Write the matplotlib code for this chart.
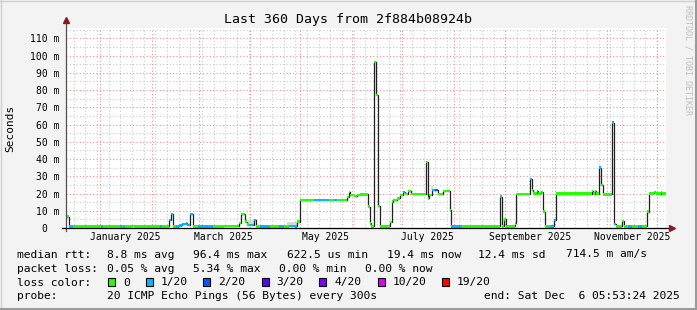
import datetime as dt
import numpy as np
import matplotlib
matplotlib.use('Agg')
import matplotlib.pyplot as plt
from matplotlib.patches import Rectangle
from matplotlib.lines import Line2D

W, H = 697, 310
END = dt.datetime(2025, 12, 6, 5, 53, 24)
START = END - dt.timedelta(days=360)

# median rtt as steps: start day (offset from START), value in ms, loss level
seg_day = [0.0, 2.2, 4.6, 21.0, 22.2, 32.6, 33.8, 34.6, 35.8, 40.0, 41.0, 56.6, 57.6,
           62.2, 63.2, 64.4, 66.0, 68.0, 70.0, 72.0, 73.0, 74.6, 76.2, 79.6, 88.6,
           95.0, 104.0, 105.2, 107.6, 108.6, 109.8, 113.2, 114.0, 116.6, 122.6,
           128.0, 131.0, 134.0, 137.8, 138.8, 140.3, 148.8, 157.8, 161.0, 163.0,
           168.8, 169.8, 170.8, 173.0, 175.0, 176.5, 181.2, 182.6, 183.2, 185.2,
           186.0, 187.2, 188.6, 194.6, 195.6, 196.6, 198.6, 200.6, 202.6, 203.6,
           205.6, 207.0, 216.0, 217.2, 218.2, 219.6, 221.6, 223.2, 226.6, 230.6,
           231.2, 237.6, 260.8, 262.0, 263.2, 264.0, 269.6, 270.0, 278.6, 279.8,
           280.6, 282.6, 283.6, 285.2, 286.4, 287.8, 290.6, 293.2, 294.0, 315.6,
           316.6, 317.6, 318.4, 319.8, 321.0, 322.4, 328.0, 329.2, 330.0, 333.8,
           335.0, 337.6, 339.6, 343.6, 345.6, 348.6, 350.0, 353.0, 354.0, 357.0,
           358.0]
seg_ms = [6.6, 0.9, 0.9, 0.9, 0.9, 0.9, 0.9, 0.9, 0.9, 1.2, 0.9, 0.9, 0.9,
          4.6, 8.1, 0.9, 0.9, 1.5, 2.3, 2.7, 1.8, 8.1, 0.9, 0.9, 0.9,
          1.1, 3.0, 8.0, 3.7, 2.0, 1.7, 4.8, 0.9, 0.9, 0.9,
          0.9, 0.9, 1.3, 0.9, 3.7, 16.2, 16.2, 16.2, 16.2, 16.2,
          18.0, 21.0, 19.0, 18.4, 19.0, 19.5, 12.4, 2.7, 0.9, 96.4,
          77.0, 12.6, 0.9, 3.5, 15.3, 16.2, 17.2, 19.1, 20.9, 19.7,
          21.3, 19.7, 38.4, 17.2, 19.1, 22.0, 22.0, 19.7, 21.5, 10.4,
          0.9, 0.9, 18.2, 0.9, 5.0, 0.9, 2.7, 19.7, 28.4, 22.0,
          20.1, 21.5, 20.1, 21.0, 9.5, 0.9, 0.9, 4.6, 19.9, 21.6,
          19.9, 21.6, 19.9, 35.0, 25.0, 19.5, 61.1, 2.3, 0.9, 4.0,
          0.9, 0.9, 0.9, 0.9, 0.9, 9.5, 20.1, 21.0, 19.9, 21.0,
          19.9]
seg_loss = [0, 1, 0, 1, 0, 1, 0, 1, 0, 0, 0, 1, 0,
            1, 1, 0, 1, 1, 1, 1, 1, 1, 0, 1, 0,
            0, 0, 0, 0, 0, 1, 1, 0, 1, 0,
            1, 0, 1, 1, 0, 0, 1, 0, 1, 0,
            0, 0, 0, 0, 0, 0, 0, 0, 0, 0,
            0, 0, 0, 0, 0, 0, 0, 0, 1, 0,
            0, 0, 0, 0, 0, 1, 2, 0, 0, 0,
            1, 0, 1, 0, 0, 0, 0, 0, 1, 0,
            0, 1, 0, 0, 0, 0, 1, 1, 0, 0,
            0, 0, 0, 1, 0, 0, 1, 1, 0, 0,
            0, 1, 0, 1, 0, 0, 0, 0, 0, 0,
            0]

# light smoke patches
smoke_day = [95.0, 109.5, 133.0, 219.0]
smoke_len = [8.0, 3.5, 5.5, 1.5]
smoke_lo = [0.5, 1.0, 1.0, 22.0]
smoke_hi = [1.6, 4.5, 3.7, 24.5]

loss_names = ['0', '1/20', '2/20', '3/20', '4/20', '10/20', '19/20']
loss_colors = ['#26ff00', '#00b8ff', '#0059ff', '#5e00ff', '#7e00ff', '#dd00ff', '#ff0000']

y_ticks = [0, 10, 20, 30, 40, 50, 60, 70, 80, 90, 100, 110]
y_labels = ['0  '] + ['%d m' % v for v in y_ticks[1:]]

stat_rows = [
    ('median rtt:', ['8.8 ms avg', '96.4 ms max', '622.5 us min', '19.4 ms now',
                     '12.4 ms sd', '714.5 m am/s']),
    ('packet loss:', ['0.05 % avg', '5.34 % max', '0.00 % min', '0.00 % now']),
]
probe_text = '20 ICMP Echo Pings (56 Bytes) every 300s'
end_text = 'end: Sat Dec  6 05:53:24 2025'
title = 'Last 360 Days from 2f884b08924b'

plt.rcParams['font.family'] = 'DejaVu Sans Mono'


def fx(x):
    return x / W


def fy(y):
    return 1 - y / H


def day_of(d):
    return (d - START).total_seconds() / 86400.0


fig = plt.figure(figsize=(W / 100, H / 100), dpi=100, facecolor='#f3f3f3')
ax = fig.add_axes([fx(65.7), fy(228), 600 / W, 200 / H])
ax.set_facecolor('white')
ax.set_xlim(0, 360)
ax.set_ylim(0, 116)

# grid (dotted, like rrdtool)
dots = (0, (1, 2))
monday = dt.datetime(2024, 12, 16)
while monday < END:
    ax.axvline(day_of(monday), color='#c8c8c8', lw=0.8, ls=dots, zorder=1)
    monday += dt.timedelta(days=7)
for v in range(5, 116, 10):
    ax.axhline(v, color='#c8c8c8', lw=0.8, ls=dots, zorder=1)
month_starts = [dt.datetime(2025, m, 1) for m in range(1, 13)]
for m in month_starts:
    ax.axvline(day_of(m), color='#f09090', lw=0.8, ls=dots, zorder=1.5)
for v in y_ticks[1:]:
    ax.axhline(v, color='#f09090', lw=0.8, ls=dots, zorder=1.5)

# smoke
ax.bar(smoke_day, np.array(smoke_hi) - np.array(smoke_lo), bottom=smoke_lo,
       width=smoke_len, align='edge', color='#d8d8d8', lw=0, zorder=2)

# median line + loss-colored band
day = np.array(seg_day)
ms = np.array(seg_ms)
edges = np.append(day, 360.0)
ax.step(edges, np.append(ms, ms[-1]), where='post', color='#202020', lw=0.9, zorder=3)
hw = 0.7
ax.bar(day, 2 * hw, bottom=ms - hw, width=np.diff(edges), align='edge',
       color=[loss_colors[l] for l in seg_loss], lw=0, zorder=4)

# ticks
for s in ax.spines.values():
    s.set_visible(False)
ax.set_yticks(y_ticks)
ax.set_yticklabels(y_labels)
label_months = [dt.datetime(2025, m, 1) for m in (1, 3, 5, 7, 9, 11)]
ax.set_xticks([day_of(m) + 15 for m in label_months])
ax.set_xticklabels([m.strftime('%B %Y') for m in label_months])
ax.tick_params(axis='both', length=0, labelsize=7, colors='black')
ax.tick_params(axis='y', pad=4.3)
ax.tick_params(axis='x', pad=3.0)

# axes with arrows
ax.plot([0, 0], [-1.5, 119.5], color='#505050', lw=0.9, clip_on=False, zorder=5)
ax.plot([-2, 363], [0, 0], color='black', lw=0.9, clip_on=False, zorder=5)
ax.plot([0], [120.5], marker='^', ms=4.5, color='#8b1a1a', clip_on=False, zorder=6)
ax.plot([363.5], [0], marker='>', ms=4.5, color='#8b1a1a', clip_on=False, zorder=6)

# texts
fig.text(fx(348.5), fy(19), title, ha='center', va='center', fontsize=9.5)
fig.text(fx(10.7), fy(128), 'Seconds', rotation=90, ha='center', va='center', fontsize=8)
fig.text(fx(688), fy(5), 'RRDTOOL / TOBI OETIKER', rotation=270, ha='center', va='top',
         fontsize=6, color='#bdbdbd')

row_y = [257.5, 271.5, 285.5, 299]
item_x = [[107, 193, 287, 387, 478, 566], [107, 193, 279, 365]]
for i, (head, items) in enumerate(stat_rows):
    fig.text(fx(16.7), fy(row_y[i]), head, fontsize=8.1, va='baseline')
    for x, t in zip(item_x[i], items):
        fig.text(fx(x), fy(row_y[i]), t, fontsize=8.1, va='baseline')

fig.text(fx(16.7), fy(row_y[2]), 'loss color:', fontsize=8.1, va='baseline')
box_x = [108.3, 145.7, 202.7, 261.7, 319.3, 377.7, 441.7]
for x, name, c in zip(box_x, loss_names, loss_colors):
    fig.add_artist(Rectangle((fx(x), fy(286)), 7 / W, 8 / H, facecolor=c,
                             edgecolor='black', lw=0.8, transform=fig.transFigure))
    fig.text(fx(x + 15), fy(row_y[2]), name, fontsize=8.1, va='baseline')

fig.text(fx(16.7), fy(row_y[3]), 'probe:', fontsize=8.1, va='baseline')
fig.text(fx(107), fy(row_y[3]), probe_text, fontsize=8.1, va='baseline')
fig.text(fx(680), fy(row_y[3]), end_text, fontsize=8.1, va='baseline', ha='right')

# frame
fig.add_artist(Line2D([0, 1], [fy(0.5), fy(0.5)], color='#d0d0d0', lw=1))
fig.add_artist(Line2D([fx(0.5), fx(0.5)], [0, 1], color='#d0d0d0', lw=1))
fig.add_artist(Line2D([0, 1], [fy(309), fy(309)], color='#9a9a9a', lw=1.5))
fig.add_artist(Line2D([fx(696), fx(696)], [0, 1], color='#9a9a9a', lw=1.5))

fig.savefig('out.png', dpi=100, facecolor=fig.get_facecolor())
